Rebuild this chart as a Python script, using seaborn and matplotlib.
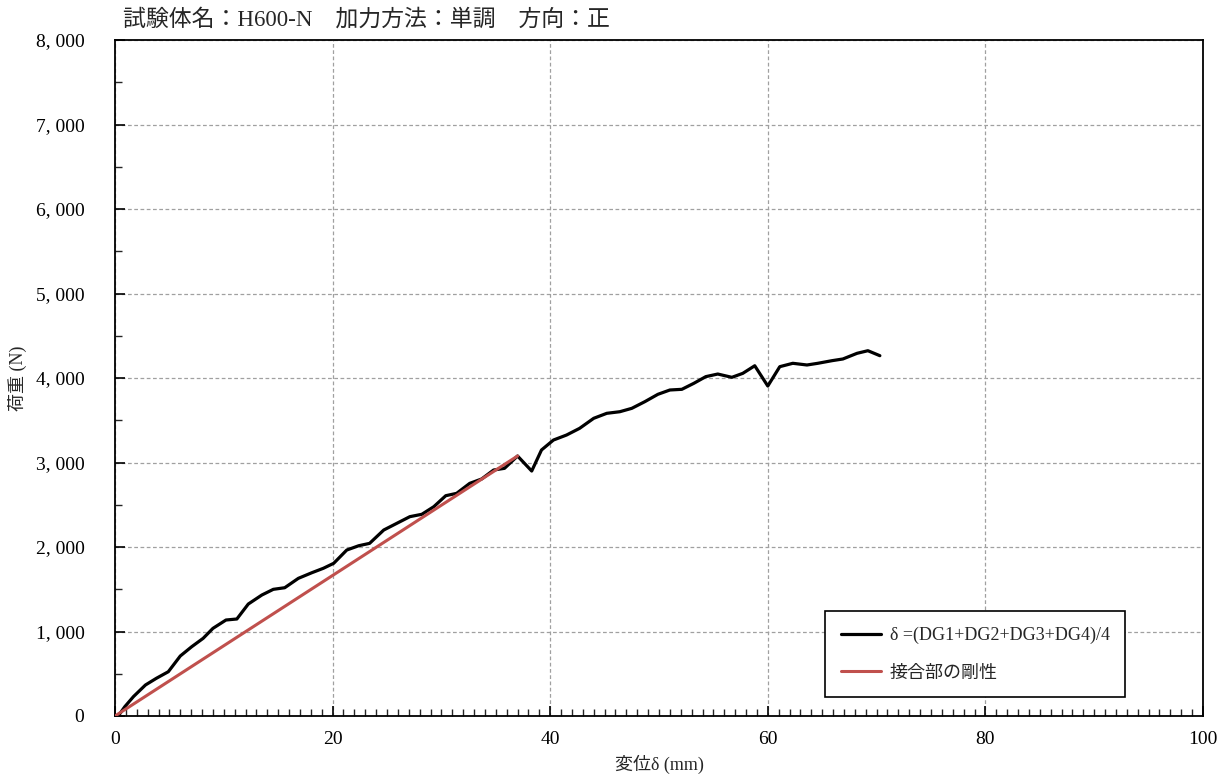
import matplotlib
matplotlib.use("Agg")
import matplotlib.pyplot as plt
from matplotlib.ticker import MultipleLocator, FuncFormatter
import seaborn as sns
import pandas as pd

# Load-displacement record, mean of four displacement gauges
disp_mm = [0.3, 0.9, 1.7, 2.8, 3.8, 4.9, 6.0, 7.05, 8.1, 9.0, 10.2, 11.2, 12.25,
           13.5, 14.55, 15.6, 16.85, 18.1, 19.15, 20.1, 21.3, 22.4, 23.4, 24.7,
           25.9, 27.1, 28.2, 29.3, 30.4, 31.4, 32.6, 33.7, 34.8, 35.8, 37.0,
           38.3, 39.2, 40.3, 41.5, 42.7, 44.0, 45.2, 46.4, 47.5, 48.7, 49.9,
           51.0, 52.1, 53.2, 54.3, 55.4, 56.7, 57.7, 58.8, 60.0, 61.1, 62.3,
           63.6, 64.6, 65.9, 66.9, 68.2, 69.2, 70.3]
load_n = [0, 110, 230, 367, 446, 524, 710, 820, 919, 1037, 1136, 1148, 1325,
          1432, 1499, 1518, 1629, 1696, 1748, 1807, 1964, 2015, 2043, 2201,
          2280, 2359, 2387, 2477, 2607, 2635, 2753, 2805, 2911, 2931, 3077,
          2899, 3148, 3266, 3325, 3404, 3523, 3582, 3601, 3641, 3720, 3807,
          3858, 3866, 3937, 4016, 4047, 4008, 4055, 4145, 3905, 4134, 4174,
          4154, 4174, 4205, 4225, 4292, 4323, 4264]

# Joint stiffness line
stiff_disp = [0.0, 37.0]
stiff_load = [0, 3077]

series_labels = ["δ =(DG1+DG2+DG3+DG4)/4", "接合部の剛性"]
title_text = "試験体名：H600-N　加力方法：単調　方向：正"

sns.set_theme(style="ticks")
fam = ["Liberation Serif", "Noto Sans CJK JP", "DejaVu Sans"]
plt.rcParams["font.family"] = fam
plt.rcParams["axes.unicode_minus"] = False

fig = plt.figure(figsize=(12.28, 7.81), dpi=100)
ax = fig.add_axes([115 / 1228, 1 - 716 / 781, 1088 / 1228, 676 / 781])

df_meas = pd.DataFrame({"disp": disp_mm, "load": load_n, "s": series_labels[0]})
df_stiff = pd.DataFrame({"disp": stiff_disp, "load": stiff_load, "s": series_labels[1]})

sns.lineplot(data=df_meas, x="disp", y="load", color="black", lw=2.3,
             sort=False, estimator=None, ax=ax, label=series_labels[0], zorder=3)
sns.lineplot(data=df_stiff, x="disp", y="load", color="#c0504d", lw=2.2,
             sort=False, estimator=None, ax=ax, label=series_labels[1], zorder=4)

ax.set_xlim(0, 100)
ax.set_ylim(0, 8000)
ax.xaxis.set_major_locator(MultipleLocator(20))
ax.xaxis.set_minor_locator(MultipleLocator(1))
ax.yaxis.set_major_locator(MultipleLocator(1000))
ax.yaxis.set_minor_locator(MultipleLocator(500))
ax.yaxis.set_major_formatter(FuncFormatter(lambda v, p: f"{int(v):,}".replace(",", ", ")))

ax.tick_params(axis="both", which="major", direction="in", length=7, width=1.2,
               labelsize=14, colors="black")
ax.tick_params(axis="x", which="major", pad=11)
ax.tick_params(axis="y", which="major", pad=22)
ax.tick_params(axis="both", which="minor", direction="in", length=5, width=1.0)
ax.tick_params(top=False, right=False, which="both")

for side in ["left", "bottom", "top", "right"]:
    ax.spines[side].set_color("black")
    ax.spines[side].set_linewidth(1.3)

ax.grid(True, which="major", color="#a0a0a0", linestyle=(0, (3, 2)), linewidth=0.9)
ax.set_axisbelow(True)

ax.set_xlabel("変位δ (mm)", fontsize=13, labelpad=5)
ax.set_ylabel("荷重 (N)", fontsize=13)
ax.yaxis.set_label_coords(-0.081, 0.5)

fig.text(123 / 1228, 1 - 20 / 781, title_text, fontsize=16.5, ha="left", va="center")

leg = ax.legend(loc="lower left", bbox_to_anchor=(0.653, 0.028), fontsize=13,
                frameon=True, fancybox=False, handlelength=2.2, handletextpad=0.5,
                labelspacing=1.15, borderpad=0.85, borderaxespad=0)
leg.get_frame().set_edgecolor("black")
leg.get_frame().set_linewidth(1.2)
leg.get_frame().set_alpha(1)

fig.savefig("out.png", dpi=100)
